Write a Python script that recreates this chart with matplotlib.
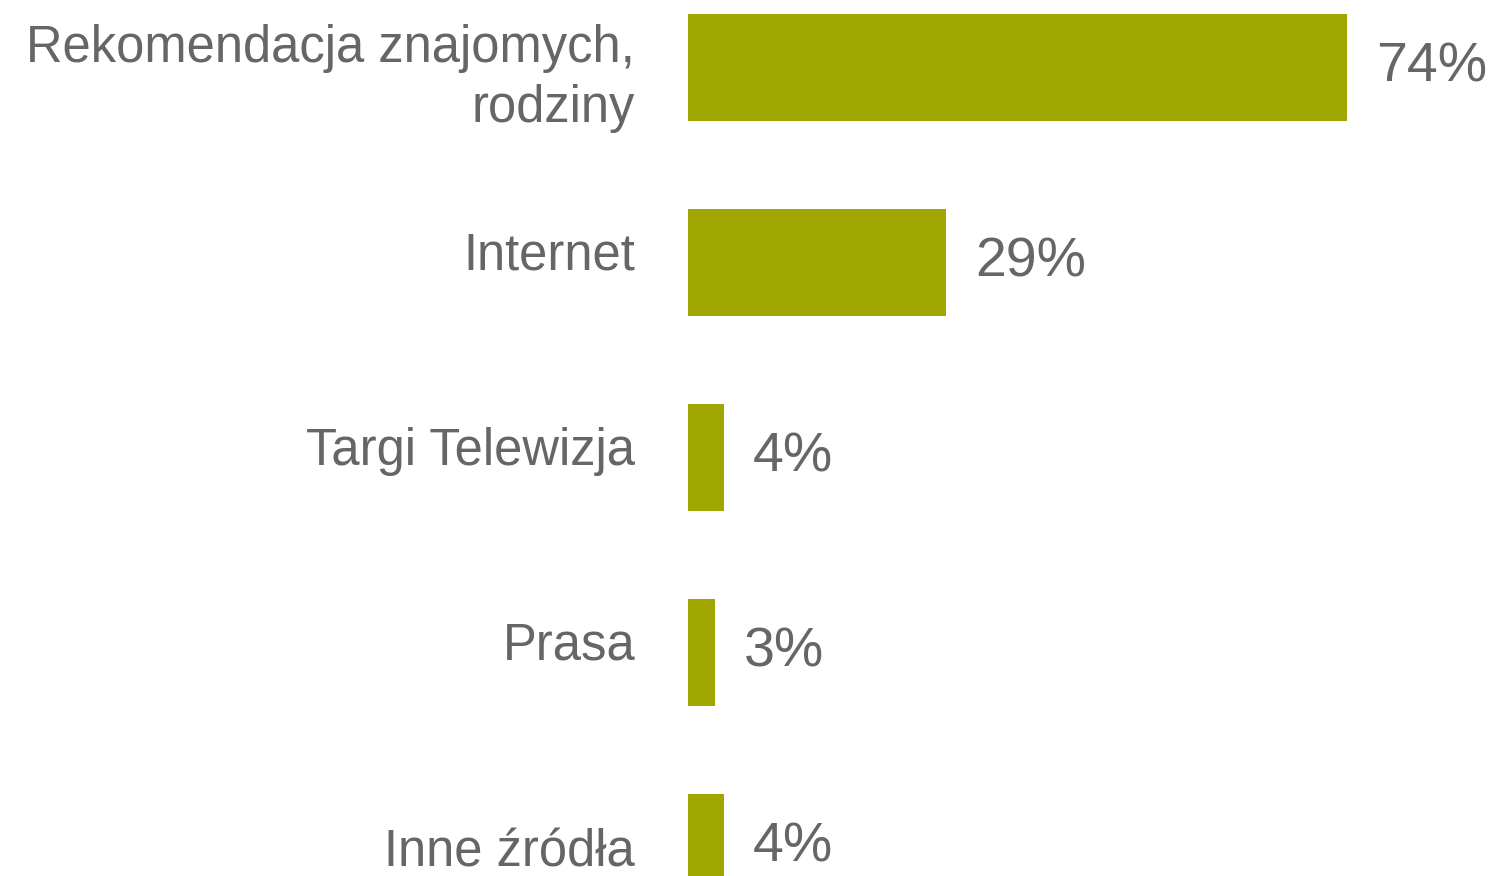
import matplotlib
matplotlib.use('Agg')
import matplotlib.pyplot as plt
import matplotlib.transforms as mtransforms

categories = ['Rekomendacja znajomych,\nrodziny', 'Internet', 'Targi Telewizja', 'Prasa', 'Inne źródła']
values = [74, 29, 4, 3, 4]
value_labels = ['74%', '29%', '4%', '3%', '4%']

bar_color = '#9fa700'
text_color = '#666666'

plt.rcParams['font.family'] = ['Liberation Sans', 'DejaVu Sans']

fig = plt.figure(figsize=(14.99, 8.76), dpi=100)
ax = fig.add_axes([688 / 1499, 0, 811 / 1499, 1])

pos = list(range(len(categories)))
ax.barh(pos, values, height=0.55, color=bar_color)

for p, v, lab in zip(pos, values, value_labels):
    ax.text(v + 3.3, p, lab, va='center', ha='left', fontsize=40, color=text_color)

ax.set_xlim(0, 91.07)
ax.set_ylim(4.146, -0.346)
ax.set_yticks(pos)
ax.set_yticklabels(categories, fontsize=36.5, color=text_color, linespacing=1.3)
ax.tick_params(axis='y', length=0, pad=38)
ax.set_xticks([])
for s in ax.spines.values():
    s.set_visible(False)

# labels sit a little above the bar centres in the original
shift = mtransforms.ScaledTranslation(0, 12 / 100, fig.dpi_scale_trans)
for t in ax.get_yticklabels()[1:4]:
    t.set_transform(t.get_transform() + shift)

fig.savefig('out.png', dpi=100)
